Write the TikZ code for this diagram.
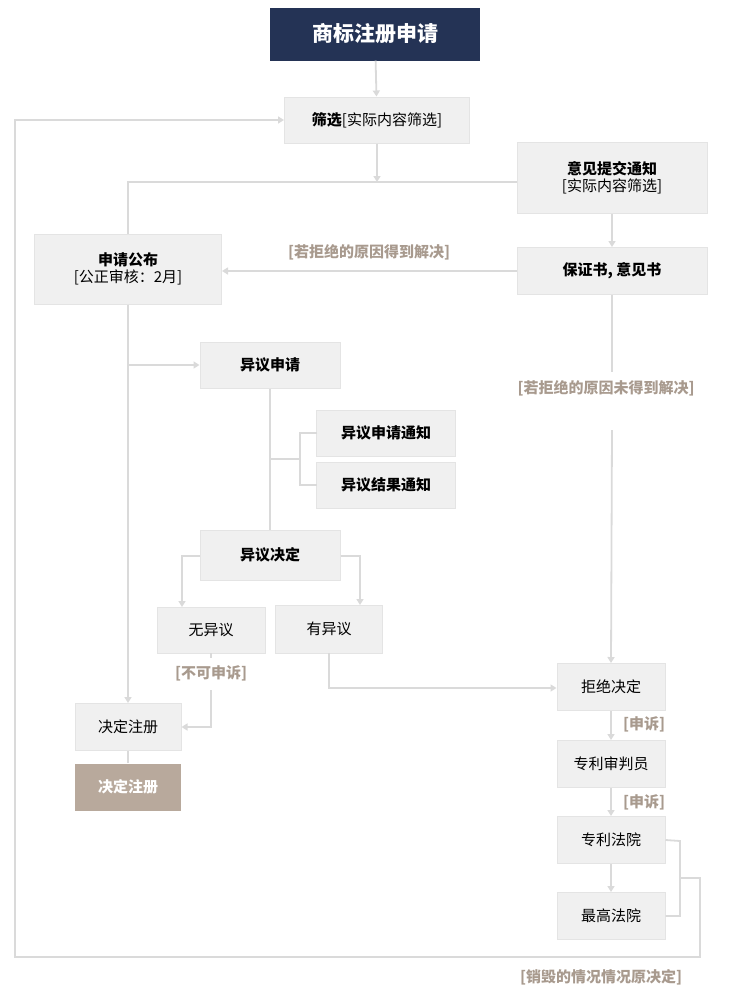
\documentclass[tikz,border=0pt]{standalone}
\usepackage{fontspec}
\setmainfont{Noto Sans CJK SC}
\usetikzlibrary{arrows.meta}
\definecolor{navy}{HTML}{243355}
\definecolor{boxf}{HTML}{F0F0F0}
\definecolor{boxd}{HTML}{E4E4E4}
\definecolor{lnc}{HTML}{DADADA}
\definecolor{lab}{HTML}{A89A8E}
\definecolor{brownf}{HTML}{B8A99C}
\begin{document}
\begin{tikzpicture}[x=1pt,y=-1pt,
 bx/.style={fill=boxf,draw=boxd,line width=1pt,minimum width=#1,inner sep=2pt,align=center,font=\fontsize{15}{19}\selectfont},
 bx/.default=108pt,
 ln/.style={draw=lnc,line width=1.8pt},
 ar/.style={ln,-{Triangle[width=7pt,length=6pt]}},
 lb/.style={text=lab,font=\fontsize{15}{18}\selectfont\bfseries,inner sep=1pt}]
\useasboundingbox (0,0) rectangle (729,1001);
\node[fill=navy,text=white,minimum width=210pt,minimum height=53pt,font=\fontsize{21}{24}\selectfont\bfseries] (t) at (375,34) {商标注册申请};
\node[bx=185pt,minimum height=46pt] (s) at (377,120) {\textbf{筛选}[实际内容筛选]};
\node[bx=190pt,minimum height=71pt] (y) at (612,178) {\textbf{意见提交通知}\\[-2pt][实际内容筛选]};
\node[bx=190pt,minimum height=47pt] (b) at (612,271) {\textbf{保证书, 意见书}};
\node[bx=187pt,minimum height=70pt] (p) at (128,269) {\textbf{申请公布}\\[-2pt][公正审核：2月]};
\node[bx=140pt,minimum height=46pt] (ys) at (270,365) {\textbf{异议申请}};
\node[bx=139pt,minimum height=46pt] (yt) at (386,433) {\textbf{异议申请通知}};
\node[bx=139pt,minimum height=46pt] (yj) at (386,485) {\textbf{异议结果通知}};
\node[bx=140pt,minimum height=50pt] (yd) at (270,555) {\textbf{异议决定}};
\node[bx=108pt,minimum height=46pt] (wu) at (211,630) {无异议};
\node[bx=107pt,minimum height=48pt] (you) at (329,629) {有异议};
\node[bx=108pt,minimum height=47pt] (jj) at (611,687) {拒绝决定};
\node[bx=106pt,minimum height=47pt] (zc) at (128,727) {决定注册};
\node[fill=brownf,text=white,minimum width=106pt,minimum height=47pt,font=\fontsize{15}{19}\selectfont\bfseries] (zc2) at (128,787) {决定注册};
\node[bx=108pt,minimum height=47pt] (sp) at (611,764) {专利审判员};
\node[bx=108pt,minimum height=47pt] (fy) at (611,840) {专利法院};
\node[bx=108pt,minimum height=47pt] (zg) at (611,916) {最高法院};
% labels
\node[lb] (l1) at (369,252) {[若拒绝的原因得到解决]};
\node[lb] (l2) at (606,388) {[若拒绝的原因未得到解决]};
\node[lb] (l3) at (211,673) {[不可申诉]};
\node[lb] (l4) at (644,724) {[申诉]};
\node[lb] (l5) at (644,802) {[申诉]};
\node[lb] (l6) at (601,977) {[销毁的情况情况原决定]};
\coordinate (m) at (377,182);
% connectors
\draw[ar] (t) -- (s);
\draw[ar] (s) -- (m);
\draw[ln] (y.west |- m) -- (128,182) -- (p.north);
\draw[ar] (y) -- (b);
\draw[ar] (b.west) -- (p.east |- b.west);
\draw[ln] (b.south) -- (612,372);
\draw[ar] (612,430) -- (jj.north);
\draw[ar] (p.south) -- (zc.north);
\draw[ar] (128,365) -- (ys.west);
\draw[ln] (ys.south) -- (yd.north);
\draw[ln] (270,459) -- (300,459);
\draw[ln] (317,433) -- (300,433) -- (300,485) -- (317,485);
\draw[ar] (yd.west |- 0,556) -- (182,556) -- (182,607);
\draw[ar] (yd.east |- 0,556) -- (360,556) -- (360,605);
\draw[ln] (211,653) -- (211,658);
\draw[ar] (211,690) -- (211,727) -- (zc.east);
\draw[ar] (329,653) -- (329,688) -- (jj.west |- 0,688);
\draw[ln] (zc.south) -- (zc2.north);
\draw[ar] (jj) -- (sp);
\draw[ar] (sp) -- (fy);
\draw[ar] (fy) -- (zg);
\draw[ln] (fy.east) -- (680,841) -- (680,916) -- (zg.east);
\draw[ar] (680,878) -- (700,878) -- (700,957) -- (15,957) -- (15,120) -- (s.west);
\end{tikzpicture}
\end{document}
